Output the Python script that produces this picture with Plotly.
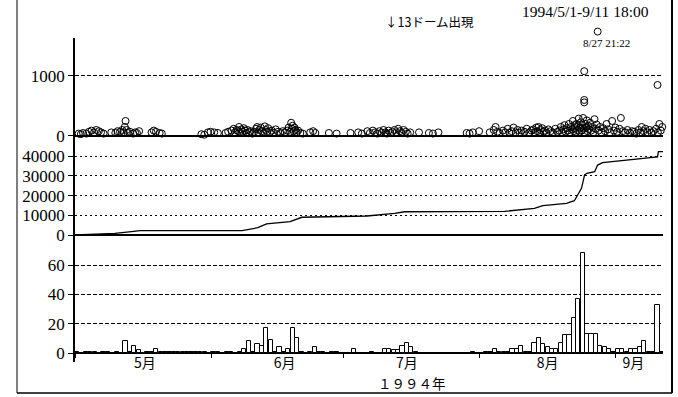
import pandas as pd
import plotly.graph_objects as go

# ---------------- data ----------------
# top panel: individual events (time "MM-DD HH", value)
ev_time = [
    "05-01 20", "05-02 08", "05-02 20", "05-03 14", "05-04 04", "05-04 18", "05-05 08", "05-05 20",
    "05-06 10", "05-06 22", "05-07 12", "05-09 06", "05-10 04", "05-10 16", "05-11 06", "05-11 18",
    "05-12 02", "05-12 08", "05-12 12", "05-12 18", "05-13 00", "05-13 12", "05-14 06", "05-14 16",
    "05-15 02", "05-15 14", "05-18 10", "05-18 22", "05-19 10", "05-20 06", "05-20 18", "05-29 18",
    "05-30 10", "05-31 06", "05-31 20",
    "06-01 16", "06-02 12", "06-04 06", "06-04 20", "06-05 14", "06-06 02", "06-06 10", "06-06 18",
    "06-07 02", "06-07 08", "06-07 14", "06-07 20", "06-08 04", "06-08 10", "06-08 16", "06-08 22",
    "06-09 06", "06-09 14", "06-09 22", "06-10 08", "06-10 18", "06-11 04", "06-11 10", "06-11 16",
    "06-11 22", "06-12 06", "06-12 12", "06-12 20", "06-13 04", "06-13 10", "06-13 16", "06-13 22",
    "06-14 08", "06-14 18", "06-15 06", "06-15 16", "06-16 04", "06-16 16", "06-17 06", "06-17 18",
    "06-18 06", "06-18 14", "06-18 22", "06-19 04", "06-19 08", "06-19 12", "06-19 18", "06-19 22",
    "06-20 04", "06-20 10", "06-20 18", "06-21 06", "06-21 20", "06-23 12", "06-24 04", "06-24 16",
    "06-27 18", "06-29 12",
    "07-02 16", "07-04 10", "07-05 06", "07-06 12", "07-07 02", "07-07 18", "07-08 06", "07-08 18",
    "07-09 06", "07-09 16", "07-10 04", "07-10 14", "07-10 22", "07-11 08", "07-11 18", "07-12 04",
    "07-12 16", "07-13 02", "07-13 12", "07-13 22", "07-14 08", "07-14 18", "07-15 06", "07-15 16",
    "07-16 06", "07-18 06", "07-20 12", "07-21 10", "07-22 16", "07-29 02", "07-29 18", "07-30 12",
    "07-31 22",
    "08-03 08", "08-04 06", "08-04 16", "08-05 02", "08-05 14", "08-06 08", "08-06 20", "08-07 10",
    "08-07 20", "08-08 08", "08-08 18", "08-09 06", "08-09 16", "08-10 04", "08-10 14", "08-11 06",
    "08-11 18", "08-12 08", "08-12 20", "08-13 06", "08-13 14", "08-13 22", "08-14 04", "08-14 10",
    "08-14 16", "08-14 22", "08-15 06", "08-15 14", "08-15 22", "08-16 06", "08-16 16", "08-17 04",
    "08-17 16", "08-18 06", "08-18 18", "08-19 04", "08-19 12", "08-19 20", "08-20 02", "08-20 08",
    "08-20 14", "08-20 20", "08-21 02", "08-21 08", "08-21 14", "08-21 20", "08-22 02", "08-22 06",
    "08-22 10", "08-22 14", "08-22 18", "08-22 22", "08-23 02", "08-23 06", "08-23 10", "08-23 14",
    "08-23 18", "08-23 22", "08-24 02", "08-24 06", "08-24 10", "08-24 14", "08-24 18", "08-24 22",
    "08-25 02", "08-25 06", "08-25 10", "08-25 14", "08-25 18", "08-25 22", "08-26 04", "08-26 10",
    "08-26 16", "08-26 22", "08-27 04", "08-27 10", "08-27 16", "08-28 02", "08-28 10", "08-28 18",
    "08-29 04", "08-29 14", "08-29 22", "08-30 06", "08-30 16", "08-31 04", "08-31 14", "08-31 22",
    "09-01 08", "09-01 20", "09-02 04", "09-02 14", "09-03 04", "09-03 16", "09-04 06", "09-04 18",
    "09-05 06", "09-05 16", "09-06 04", "09-06 14", "09-06 22", "09-07 08", "09-07 18", "09-08 06",
    "09-08 16", "09-09 04", "09-09 14", "09-10 04", "09-10 14", "09-10 22", "09-11 06", "09-11 14",
    "08-24 20", "08-24 20", "08-24 20", "09-10 12",
]
ev_val = [
    40, 30, 50, 40, 70, 90, 60, 100,
    80, 60, 40, 60, 50, 80, 70, 100,
    60, 150, 250, 100, 50, 70, 40, 60,
    50, 80, 60, 90, 70, 50, 40, 30,
    20, 60, 70,
    60, 50, 50, 70, 90, 120, 60, 100,
    80, 150, 50, 110, 70, 130, 90, 50,
    100, 60, 80, 40, 70, 120, 150, 60,
    100, 140, 80, 50, 160, 100, 70, 130,
    60, 90, 50, 110, 70, 50, 80, 60,
    90, 140, 70, 220, 120, 170, 80, 140,
    100, 60, 90, 50, 40, 60, 80, 50,
    50, 40,
    50, 60, 40, 80, 50, 90, 60, 40,
    80, 50, 100, 60, 40, 90, 50, 70,
    100, 60, 120, 80, 50, 100, 70, 40,
    60, 60, 50, 40, 60, 50, 40, 60,
    80,
    60, 100, 150, 70, 50, 90, 60, 120,
    50, 80, 140, 60, 100, 50, 90, 70,
    120, 60, 90, 110, 60, 140, 80, 150,
    50, 100, 130, 70, 90, 50, 110, 80,
    60, 120, 70, 90, 150, 60, 110, 180,
    70, 130, 90, 200, 60, 150, 110, 250,
    80, 180, 130, 60, 200, 100, 160, 290,
    70, 140, 230, 90, 180, 300, 120, 60,
    200, 140, 260, 80, 170, 110, 220, 90,
    150, 60, 280, 120, 190, 90, 150, 60,
    130, 80, 200, 110, 60, 250, 90, 140,
    70, 120, 300, 80, 60, 100, 50, 80,
    70, 40, 100, 60, 150, 80, 120, 60,
    100, 50, 80, 120, 60, 200, 90, 150,
    1080, 600, 560, 850,
]
peak_time = "1994-08-27 21:22"
peak_val = 1740
peak_label = "8/27 21:22"

# middle panel: cumulative curve
cum_time = [
    "05-01 00", "05-10 02", "05-12 19", "05-15 19", "06-08 00", "06-11 14", "06-13 14", "06-18 22",
    "06-21 14", "07-06 10", "07-12 17", "07-15 00", "08-06 17", "08-10 14", "08-13 12", "08-15 10",
    "08-20 19", "08-22 14", "08-23 07", "08-24 05", "08-24 22", "08-25 10", "08-27 05", "08-27 21",
    "08-29 00", "09-04 02", "09-07 12", "09-10 12", "09-10 17", "09-11 18",
]
cum_val = [
    0, 800, 1500, 2200, 2200, 3700, 5600, 6800,
    9000, 9650, 11000, 11800, 12000, 12850, 13500, 14900,
    16100, 17400, 20300, 23700, 30500, 31300, 32100, 35500,
    36700, 38100, 38900, 39700, 42300, 42300,
]

# bottom panel: daily counts
may_counts = [1, 0, 1, 1, 1, 0, 1, 1, 0, 1, 0, 8, 1, 5, 2, 0, 1, 1, 3, 1, 1, 1, 1, 1, 1, 1, 1, 1, 1, 1, 0]
jun_counts = [1, 1, 0, 1, 1, 0, 1, 3, 8, 1, 6, 5, 17, 9, 1, 4, 1, 3, 17, 10, 1, 0, 1, 4, 1, 1, 0, 1, 1, 0]
jul_counts = [0, 0, 3, 0, 0, 0, 1, 0, 0, 3, 3, 2, 2, 5, 7, 4, 1, 0, 0, 0, 0, 0, 0, 0, 0, 0, 0, 0, 0, 1, 0]
aug_counts = [0, 1, 1, 3, 1, 1, 1, 3, 3, 5, 1, 1, 7, 10, 6, 4, 3, 3, 7, 12, 12, 24, 37, 68, 13, 13, 13, 5, 4, 3, 1]
sep_counts = [3, 3, 1, 3, 3, 4, 8, 1, 1, 33, 1]

month_starts = ["1994-05-01", "1994-06-01", "1994-07-01", "1994-08-01", "1994-09-01"]
month_label_pos = ["1994-05-16 22:00", "1994-06-17 17:00", "1994-07-15 12:00", "1994-08-16 12:00", "1994-09-05 00:00"]
month_labels = ["5月", "6月", "7月", "8月", "9月"]
year_label = "１９９４年"
period_label = "1994/5/1-9/11 18:00"
dome_label = "↓13ドーム出現"

top_ticks = [0, 1000]
mid_ticks = [0, 10000, 20000, 30000, 40000]
bot_ticks = [0, 20, 40, 60]

x_start = "1994-05-01 00:00"
x_end = "1994-09-11 18:00"

# ---------------- build ----------------
ev_x = pd.to_datetime(["1994-" + t + ":00" for t in ev_time])
cum_x = pd.to_datetime(["1994-" + t + ":00" for t in cum_time])
counts = may_counts + jun_counts + jul_counts + aug_counts + sep_counts
bar_x = pd.date_range("1994-05-01 12:00", periods=len(counts), freq="D")

SERIF = "Liberation Serif, Times New Roman, serif"
CJK = "Noto Sans CJK JP, sans-serif"

W, H = 678, 397
def py(px):
    return 1 - px / H

marker_style = dict(symbol="circle-open", size=7, color="black", line=dict(width=1))

fig = go.Figure()
fig.add_trace(go.Scatter(
    x=ev_x, y=ev_val, xaxis="x", yaxis="y", mode="markers", cliponaxis=False,
    marker=marker_style, showlegend=False))
# the off-scale event, drawn on a taller invisible axis with identical scale
fig.add_trace(go.Scatter(
    x=[pd.Timestamp(peak_time)], y=[peak_val], xaxis="x", yaxis="y4", mode="markers",
    marker=marker_style, showlegend=False))
fig.add_trace(go.Scatter(
    x=cum_x, y=cum_val, xaxis="x", yaxis="y2", mode="lines",
    line=dict(color="black", width=1.3), showlegend=False))
fig.add_trace(go.Bar(
    x=bar_x, y=counts, xaxis="x", yaxis="y3", width=86400000 * 0.95,
    marker=dict(color="white", line=dict(color="black", width=1)), showlegend=False))

yax_common = dict(
    showline=True, linecolor="black", linewidth=1.5,
    ticks="outside", ticklen=5, tickcolor="black",
    tickfont=dict(family=SERIF, size=17, color="black"),
    showgrid=True, gridcolor="black", gridwidth=1,
    zeroline=True, zerolinecolor="black", zerolinewidth=1.5,
    anchor="x", tickmode="array", tickformat="d", automargin=False,
)

top_lo, top_hi = -117, 1633          # top panel range, px 143 .. 38
top_upp = (top_hi - top_lo) / (143 - 38)   # units per pixel

fig.update_layout(
    width=W, height=H, margin=dict(l=0, r=0, t=0, b=0, autoexpand=False),
    paper_bgcolor="white", plot_bgcolor="rgba(0,0,0,0)", bargap=0,
    xaxis=dict(
        domain=[75 / W, 663 / W], range=[x_start, x_end], type="date",
        anchor="free", position=py(353), automargin=False,
        showline=False, showgrid=False, zeroline=False,
        tickmode="array", tickvals=month_label_pos, ticktext=month_labels, ticks="",
        ticklabelstandoff=0,
        tickfont=dict(family=CJK, size=14, color="black"),
        minor=dict(tickmode="array", tickvals=month_starts, ticks="outside", ticklen=4,
                   tickcolor="black", showgrid=False),
    ),
    yaxis=dict(domain=[py(143), py(38)], range=[top_lo, top_hi], tickvals=top_ticks,
               griddash="4px,2px", **yax_common),
    yaxis2=dict(domain=[py(237), py(143)], range=[-1015, 46700], tickvals=mid_ticks,
                griddash="2px,3px", **yax_common),
    yaxis3=dict(domain=[py(362), py(237)], range=[-6.1, 79.2], tickvals=bot_ticks,
                griddash="4px,2px", **yax_common),
    yaxis4=dict(domain=[py(143), py(20)], range=[top_lo, top_lo + top_upp * (143 - 20)],
                anchor="x", visible=False, showgrid=False, zeroline=False, automargin=False),
)

ann = dict(xref="paper", yref="paper", showarrow=False, xanchor="center", yanchor="middle")
fig.add_annotation(text=period_label, x=585 / W, y=py(12),
                   font=dict(family=SERIF, size=15.5, color="black"), **ann)
fig.add_annotation(text=dome_label, x=430 / W, y=py(22),
                   font=dict(family=CJK, size=12.5, color="black"), **ann)
fig.add_annotation(text=peak_label, x=606 / W, y=py(43),
                   font=dict(family=SERIF, size=11, color="black"), **ann)
fig.add_annotation(text=year_label, x=412 / W, y=py(383),
                   font=dict(family=CJK, size=13.5, color="black"), **ann)

# frame
fig.add_shape(type="line", xref="paper", yref="paper", x0=17 / W, x1=17 / W, y0=py(393), y1=1,
              line=dict(color="#555555", width=1.5))
fig.add_shape(type="line", xref="paper", yref="paper", x0=672 / W, x1=672 / W, y0=py(393), y1=1,
              line=dict(color="black", width=2))
fig.add_shape(type="line", xref="paper", yref="paper", x0=17 / W, x1=672 / W, y0=py(393), y1=py(393),
              line=dict(color="black", width=1.5))

fig.write_html("out.html")
